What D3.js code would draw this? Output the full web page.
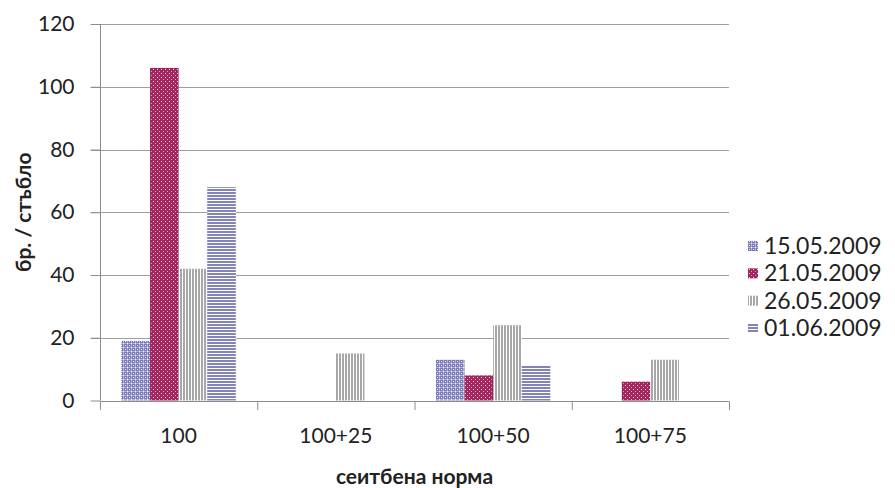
<!DOCTYPE html>
<html><head><meta charset="utf-8">
<script src="https://cdn.jsdelivr.net/npm/d3@7"></script>
<style>body{margin:0;background:#fff}svg{display:block}</style>
</head><body>
<svg id="c" width="895" height="488"></svg>
<script>
const categories = ["100", "100+25", "100+50", "100+75"];
const seriesNames = ["15.05.2009", "21.05.2009", "26.05.2009", "01.06.2009"];
const s1505 = [19, 0, 13, 0];
const s2105 = [106, 0, 8, 6];
const s2605 = [42, 15, 24, 13];
const s0106 = [68, 0, 11, 0];
const yTicks = [0, 20, 40, 60, 80, 100, 120];
const yTitle = "бр. / стъбло";
const xTitle = "сеитбена норма";

const seriesValues = [s1505, s2105, s2605, s0106];
const svg = d3.select("#c");
const font = "Lato, 'Open Sans', sans-serif";
const m = {l: 100, r: 166, t: 24, b: 87.5};
const W = 895, H = 488;

const x = d3.scaleBand().domain(categories).range([m.l, W - m.r]).paddingInner(0).paddingOuter(0);
const xi = d3.scaleBand().domain(d3.range(4)).range([0, x.bandwidth()]).paddingInner(0).paddingOuter(0.75);
const y = d3.scaleLinear().domain([0, 120]).range([H - m.b, m.t]);

// patterns
const defs = svg.append("defs");
function pat(id, w, h, draw) {
  const p = defs.append("pattern").attr("id", id).attr("patternUnits", "userSpaceOnUse")
    .attr("width", w).attr("height", h);
  draw(p);
}
function px(p, xx, yy, w, h, c) {
  p.append("rect").attr("x", xx).attr("y", yy).attr("width", w).attr("height", h).attr("fill", c);
}
pat("p0", 4, 4, p => {
  px(p, 0, 0, 4, 4, "#7777b8");
  px(p, 3, 0, 1, 4, "#b0b0d8");
  px(p, 0, 3, 4, 1, "#b0b0d8");
  px(p, 1, 1, 1, 1, "#ffffff");
  px(p, 3, 3, 1, 1, "#eeeef8");
});
pat("p1", 4, 4, p => {
  px(p, 0, 0, 4, 4, "#a1255f");
  px(p, 1, 1, 1, 1, "#f4dbe6");
  px(p, 3, 3, 1, 1, "#dc9ab6");
});
pat("p2", 3, 3, p => {
  px(p, 0, 0, 3, 3, "#ffffff");
  px(p, 0, 0, 2, 3, "#a8a8a8");
});
pat("p3", 3, 3, p => {
  px(p, 0, 0, 3, 3, "#ffffff");
  px(p, 0, 0, 3, 2, "#8383bb");
});

// gridlines
svg.append("g").selectAll("line").data(yTicks.filter(d => d > 0)).join("line")
  .attr("x1", m.l - 9).attr("x2", W - m.r)
  .attr("y1", d => Math.round(y(d)) + 0.5).attr("y2", d => Math.round(y(d)) + 0.5)
  .attr("stroke", "#9e9e9e").attr("stroke-width", 1);

// bars
const g = svg.append("g");
seriesValues.forEach((vals, si) => {
  g.append("g").selectAll("rect").data(vals.map((v, i) => ({v, c: categories[i]}))).join("rect")
    .attr("x", d => x(d.c) + xi(si))
    .attr("width", xi.bandwidth())
    .attr("y", d => y(d.v))
    .attr("height", d => y(0) - y(d.v))
    .attr("fill", `url(#p${si})`);
});

// y axis
const ya = svg.append("g").attr("transform", `translate(${m.l + 0.5},0)`)
  .call(d3.axisLeft(y).tickValues(yTicks).tickSize(10).tickPadding(16));
ya.select(".domain").attr("stroke", "#8c8c8c").attr("d", `M0,${y(120)}V${y(0)}`);
ya.selectAll(".tick line").attr("stroke", "#8c8c8c");
ya.selectAll("text").attr("font-family", font).attr("font-size", 21).attr("fill", "#222");

// x axis
const xa = svg.append("g").attr("transform", `translate(0,${Math.round(y(0)) + 0.5})`)
  .call(d3.axisBottom(x).tickSize(0).tickPadding(27));
xa.select(".domain").attr("stroke", "#8c8c8c").attr("d", `M${m.l},0H${W - m.r}`);
xa.selectAll("text").attr("font-family", font).attr("font-size", 21).attr("fill", "#222");
svg.append("g").selectAll("line").data(d3.range(5)).join("line")
  .attr("x1", i => m.l + i * x.bandwidth() + 0.5).attr("x2", i => m.l + i * x.bandwidth() + 0.5)
  .attr("y1", Math.round(y(0)) + 0.5).attr("y2", Math.round(y(0)) + 9)
  .attr("stroke", "#8c8c8c");

// titles
svg.append("text").attr("x", (m.l + W - m.r) / 2).attr("y", 484)
  .attr("text-anchor", "middle").attr("font-family", font).attr("font-weight", "bold")
  .attr("font-size", 21).attr("fill", "#222").text(xTitle);
svg.append("text").attr("transform", `translate(31,${(y(0) + y(120)) / 2}) rotate(-90)`)
  .attr("text-anchor", "middle").attr("font-family", font).attr("font-weight", "bold")
  .attr("font-size", 21).attr("fill", "#222").text(yTitle);

// legend
const lg = svg.append("g");
const rowY = d3.scaleLinear().domain([0, 3]).range([246, 328]);
seriesNames.forEach((n, i) => {
  lg.append("rect").attr("x", 748).attr("y", rowY(i) - 5).attr("width", 10).attr("height", 10)
    .attr("fill", `url(#p${i})`);
  lg.append("text").attr("x", 764).attr("y", rowY(i)).attr("dy", "0.35em")
    .attr("font-family", font).attr("font-size", 23).attr("fill", "#222").text(n);
});
</script>
</body></html>
